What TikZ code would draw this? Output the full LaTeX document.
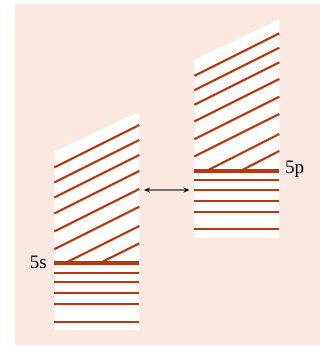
\documentclass[tikz,border=0pt]{standalone}
\usepackage{fontspec}
\setmainfont{Liberation Serif}
\usetikzlibrary{arrows.meta}
\definecolor{bgpink}{RGB}{250,232,225}
\definecolor{level}{RGB}{183,56,12}
\definecolor{arrgray}{RGB}{112,112,112}
\tikzset{
  band/.style={fill=white, draw=none},
  lvl/.style={draw=level, line width=2.1pt},
  edge/.style={draw=level, line width=4pt},
  lbl/.style={font=\fontsize{19}{21}\selectfont, inner sep=0pt},
  link/.style={draw=arrgray, line width=1.1pt,
    {Stealth[black,length=6pt,width=5pt]}-{Stealth[black,length=6pt,width=5pt]}}
}
\begin{document}
\begin{tikzpicture}[x=1pt,y=-1pt]
\useasboundingbox (0,0) rectangle (320,346);
\fill[bgpink] (15,4) rectangle (320,345);

% ---- 5s band (left) ----
\fill[band] (54.3,151.7) -- (139.3,111.7) -- (139.3,330) -- (54.3,330) -- cycle;
\foreach \r in {125,140,155,171,189,206.7}
  \draw[lvl] (139.3,\r) -- (54.3,\r+42.5);
\draw[lvl] (139.3,226) -- (64.7,263.3);
\draw[lvl] (139.3,243.3) -- (99.3,263.3);
\foreach \y in {272.7,282,293.3,304,321.7}
  \draw[lvl] (54.3,\y) -- (139.3,\y);
\draw[edge] (54.3,263.3) -- (139.3,263.3);
\node[lbl, anchor=base east] (s5) at (47,268) {5s};

% ---- 5p band (right) ----
\fill[band] (194.3,60) -- (279.3,19.3) -- (279.3,237.7) -- (194.3,237.7) -- cycle;
\foreach \r in {33.3,47.7,62.3,79,96.7,114}
  \draw[lvl] (279.3,\r) -- (194.3,\r+42.5);
\draw[lvl] (279.3,134) -- (206.3,171);
\draw[lvl] (279.3,151) -- (240.3,171);
\foreach \y in {180,189.7,200.7,211.7,229.3}
  \draw[lvl] (194.3,\y) -- (279.3,\y);
\draw[edge] (194.3,171) -- (279.3,171);
\node[lbl, anchor=base west] (p5) at (285,173) {5p};

% ---- coupling arrow between the bands ----
\coordinate (gapL) at (144,190);
\coordinate (gapR) at (189.5,190);
\draw[link] (gapL) -- (gapR);
\end{tikzpicture}
\end{document}
